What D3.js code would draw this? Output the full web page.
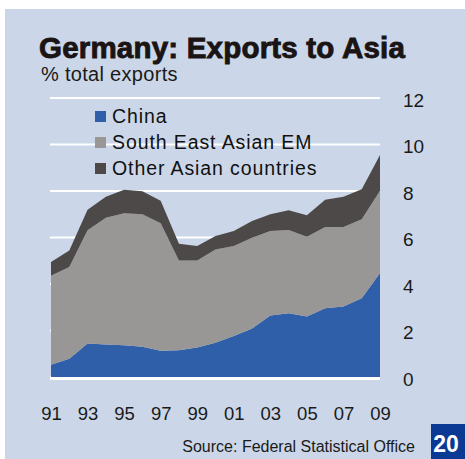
<!DOCTYPE html>
<html>
<head>
<meta charset="utf-8">
<script src="https://cdn.jsdelivr.net/npm/d3@7"></script>
<style>
  body { margin: 0; background: #fff; }
  svg { display: block; font-family: "Liberation Sans", Arial, sans-serif; }
</style>
</head>
<body>
<svg id="chart" width="465" height="459"></svg>
<script>
// Data: share of German exports, % of total
var years = d3.range(1991, 2010);
var china = [0.53, 0.79, 1.44, 1.40, 1.37, 1.30, 1.13, 1.15, 1.27, 1.47, 1.76, 2.09, 2.64, 2.74, 2.60, 2.96, 3.03, 3.39, 4.47];
var seAsia = [3.83, 3.94, 4.87, 5.45, 5.67, 5.70, 5.48, 3.86, 3.74, 4.01, 3.87, 3.90, 3.64, 3.58, 3.43, 3.49, 3.42, 3.39, 3.54];
var otherAsia = [0.59, 0.71, 0.88, 0.90, 1.01, 0.99, 0.97, 0.72, 0.62, 0.58, 0.65, 0.72, 0.72, 0.85, 0.93, 1.17, 1.30, 1.30, 1.54];
var seriesNames = ["China", "South East Asian EM", "Other Asian countries"];
var yTicks = [0, 2, 4, 6, 8, 10, 12];
var xTicks = [1991, 1993, 1995, 1997, 1999, 2001, 2003, 2005, 2007, 2009];

var colors = ["#2f5fa9", "#999795", "#4d4949"];

var svg = d3.select("#chart");

// panel background
svg.append("rect")
  .attr("x", 5).attr("y", 9)
  .attr("width", 460).attr("height", 450)
  .attr("fill", "#cbd7e8");

// scales
var x = d3.scaleLinear().domain([1991, 2009]).range([51, 380]);
var y = d3.scaleLinear().domain([0, 12]).range([377, 98]);

// gridlines
svg.selectAll(".grid")
  .data(yTicks)
  .enter().append("line")
    .attr("x1", x(1991) - 1)
    .attr("x2", x(2009))
    .attr("y1", function(d) { return y(d); })
    .attr("y2", function(d) { return y(d); })
    .attr("stroke", "#fff")
    .attr("stroke-width", 2);

// stacked areas
var table = years.map(function(yr, i) {
  return {year: yr, China: china[i], "South East Asian EM": seAsia[i], "Other Asian countries": otherAsia[i]};
});
var stack = d3.stack().keys(seriesNames)(table);

var area = d3.area()
  .x(function(d) { return x(d.data.year); })
  .y0(function(d) { return y(d[0]); })
  .y1(function(d) { return y(d[1]); });

svg.selectAll(".layer")
  .data(stack)
  .enter().append("path")
    .attr("d", area)
    .attr("fill", function(d, i) { return colors[i]; });

// zero line
svg.append("line")
  .attr("x1", x(1991) - 1).attr("x2", x(2009))
  .attr("y1", y(0) + 1.5).attr("y2", y(0) + 1.5)
  .attr("stroke", "#fff").attr("stroke-width", 3);

// y axis labels on the right
var yAxis = d3.axisRight(y).tickValues(yTicks).tickSize(0).tickPadding(0);
var gy = svg.append("g")
  .attr("transform", "translate(403,2)")
  .call(yAxis);
gy.select(".domain").remove();
gy.selectAll("text")
  .attr("font-size", 19)
  .attr("fill", "#1a1a1a")
  .attr("font-family", "Liberation Sans, Arial, sans-serif");

// x axis labels
var xAxis = d3.axisBottom(x).tickValues(xTicks).tickSize(0).tickPadding(0)
  .tickFormat(function(d) { return d3.format("02d")(d % 100); });
var gx = svg.append("g")
  .attr("transform", "translate(0,407)")
  .call(xAxis);
gx.select(".domain").remove();
gx.selectAll("text")
  .attr("font-size", 18.5)
  .attr("fill", "#1a1a1a")
  .attr("font-family", "Liberation Sans, Arial, sans-serif");

// title
svg.append("text")
  .attr("x", 39).attr("y", 58)
  .attr("font-size", 29.5)
  .attr("font-weight", "bold")
  .attr("letter-spacing", 0.2)
  .attr("fill", "#1a1414")
  .attr("stroke", "#1a1414")
  .attr("stroke-width", 0.9)
  .text("Germany: Exports to Asia");

svg.append("text")
  .attr("x", 41).attr("y", 81)
  .attr("font-size", 20)
  .attr("letter-spacing", 0.3)
  .attr("fill", "#1a1a1a")
  .text("% total exports");

// legend
var legend = svg.selectAll(".legend")
  .data(seriesNames)
  .enter().append("g")
    .attr("transform", function(d, i) { return "translate(95," + (111 + i * 26) + ")"; });

legend.append("rect")
  .attr("width", 11).attr("height", 11)
  .attr("fill", function(d, i) { return colors[i]; });

legend.append("text")
  .attr("x", 17).attr("y", 12)
  .attr("font-size", 19.5)
  .attr("letter-spacing", 0.9)
  .attr("fill", "#111")
  .text(function(d) { return d; });

// source
svg.append("text")
  .attr("x", 415).attr("y", 452)
  .attr("text-anchor", "end")
  .attr("font-size", 16)
  .attr("fill", "#1a1a1a")
  .text("Source: Federal Statistical Office");

// page number box
svg.append("rect")
  .attr("x", 431).attr("y", 424)
  .attr("width", 34).attr("height", 35)
  .attr("fill", "#0a3a94");

svg.append("text")
  .attr("x", 446).attr("y", 452)
  .attr("text-anchor", "middle")
  .attr("font-size", 23)
  .attr("font-weight", "bold")
  .attr("fill", "#fff")
  .text("20");
</script>
</body>
</html>
